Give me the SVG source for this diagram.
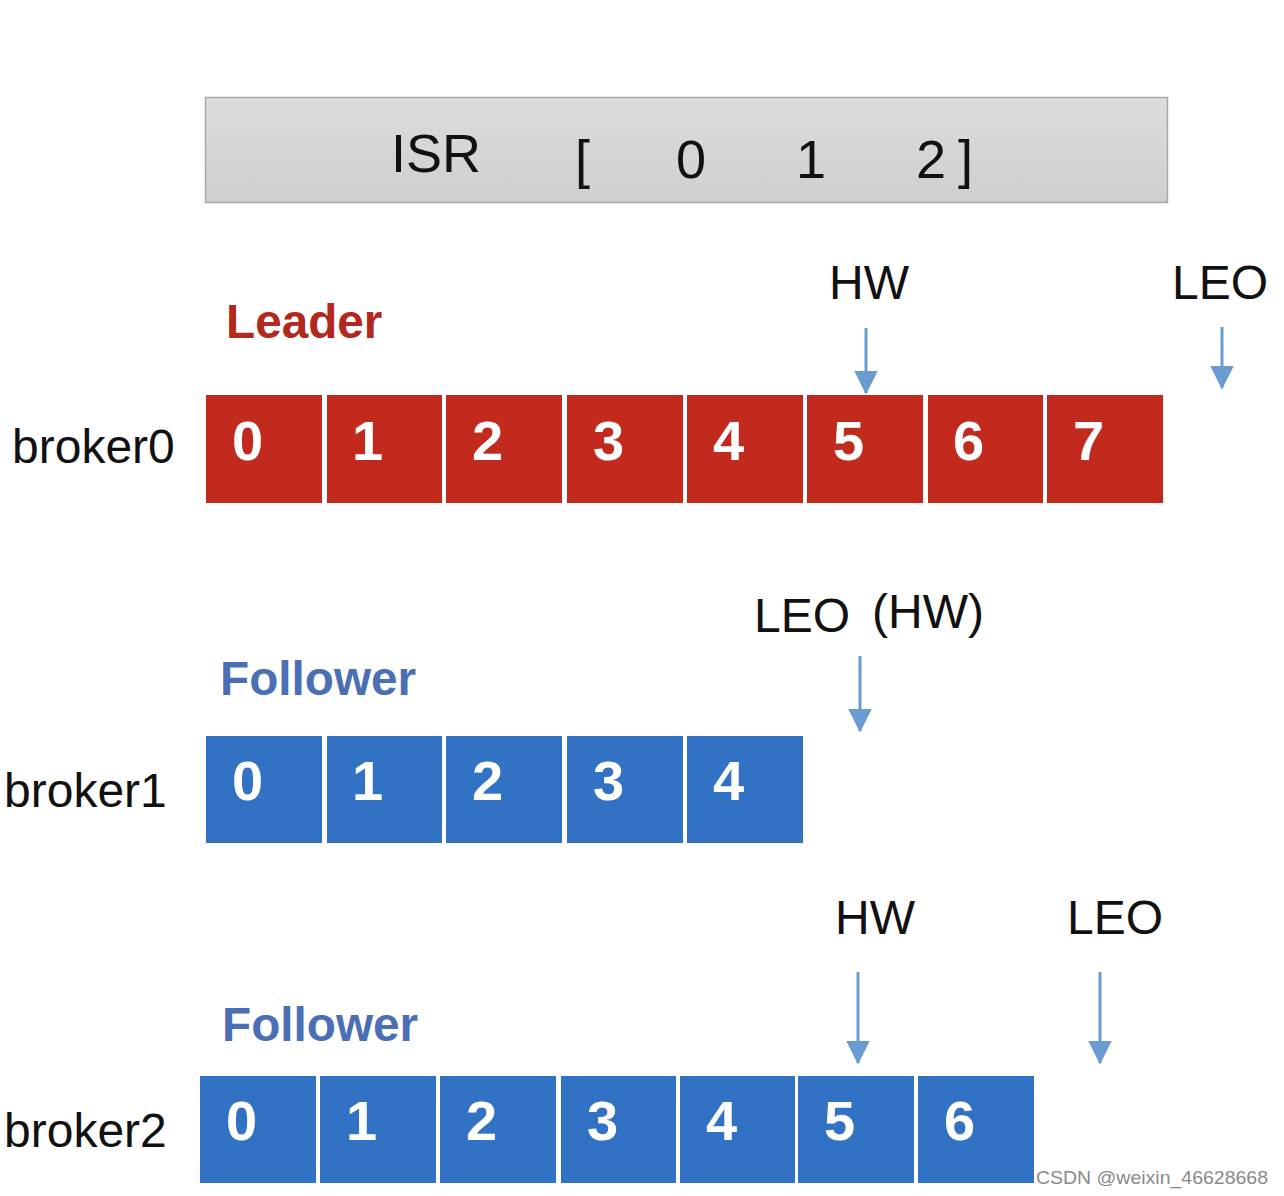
<svg xmlns="http://www.w3.org/2000/svg" width="1284" height="1196" viewBox="0 0 1284 1196">
<defs>
<linearGradient id="isrg" x1="0" y1="0" x2="0" y2="1">
<stop offset="0" stop-color="#dcdcdc"/>
<stop offset="1" stop-color="#cfcfcf"/>
</linearGradient>
<marker id="ah" markerWidth="8" markerHeight="9" refX="7.5" refY="4" orient="auto" markerUnits="strokeWidth">
<path d="M0,0 L8,4 L0,8 z" fill="#6a9bd1"/>
</marker>
<style>
.t{font-family:"Liberation Sans",Arial,sans-serif;fill:#111}
.lbl{font-size:48px}
.red{fill:#c22a1e}
.blue{fill:#3272c4}
.d{font-family:"Liberation Sans",Arial,sans-serif;font-weight:bold;font-size:56px;fill:#fff}
.role{font-family:"Liberation Sans",Arial,sans-serif;font-weight:bold;font-size:47.7px}
.arr{stroke:#6a9bd1;stroke-width:3;fill:none;marker-end:url(#ah)}
</style>
</defs>
<rect width="1284" height="1196" fill="#fff"/>

<g id="isr">
<rect x="205.5" y="97.5" width="962" height="105" fill="url(#isrg)" stroke="#a8a8a8" stroke-width="1.5"/>
<text class="t" x="391" y="172" font-size="54">ISR</text>
<text class="t" x="575" y="178" font-size="54">[</text>
<text class="t" x="676" y="178" font-size="54">0</text>
<text class="t" x="796" y="178" font-size="54">1</text>
<text class="t" x="916" y="178" font-size="54">2</text>
<text class="t" x="958" y="178" font-size="54">]</text>
</g>

<g id="broker0">
<text class="t lbl" x="12" y="463">broker0</text>
<text class="role" x="226" y="338" fill="#b2281c">Leader</text>
<rect class="red" x="206" y="395" width="116" height="108"/>
<rect class="red" x="327" y="395" width="115" height="108"/>
<rect class="red" x="446" y="395" width="116" height="108"/>
<rect class="red" x="567" y="395" width="116" height="108"/>
<rect class="red" x="687" y="395" width="116" height="108"/>
<rect class="red" x="807" y="395" width="116" height="108"/>
<rect class="red" x="928" y="395" width="115" height="108"/>
<rect class="red" x="1047" y="395" width="116" height="108"/>
<text class="d" x="232" y="460">0</text>
<text class="d" x="352" y="460">1</text>
<text class="d" x="472" y="460">2</text>
<text class="d" x="593" y="460">3</text>
<text class="d" x="713" y="460">4</text>
<text class="d" x="833" y="460">5</text>
<text class="d" x="953" y="460">6</text>
<text class="d" x="1073" y="460">7</text>
<text class="t lbl" x="829" y="299">HW</text>
<text class="t lbl" x="1172" y="299">LEO</text>
</g>

<g id="broker1">
<text class="t lbl" x="4" y="807">broker1</text>
<text class="role" x="220" y="695" fill="#4a6fb5">Follower</text>
<rect class="blue" x="206" y="736" width="116" height="107"/>
<rect class="blue" x="327" y="736" width="115" height="107"/>
<rect class="blue" x="446" y="736" width="116" height="107"/>
<rect class="blue" x="567" y="736" width="116" height="107"/>
<rect class="blue" x="687" y="736" width="116" height="107"/>
<text class="d" x="232" y="800">0</text>
<text class="d" x="352" y="800">1</text>
<text class="d" x="472" y="800">2</text>
<text class="d" x="593" y="800">3</text>
<text class="d" x="713" y="800">4</text>
<text class="t lbl" x="754" y="632">LEO</text>
<text class="t lbl" x="872" y="628">(HW)</text>
</g>

<g id="broker2">
<text class="t lbl" x="4" y="1147">broker2</text>
<text class="role" x="222" y="1041" fill="#4a6fb5">Follower</text>
<rect class="blue" x="200" y="1076" width="116" height="107"/>
<rect class="blue" x="320" y="1076" width="116" height="107"/>
<rect class="blue" x="440" y="1076" width="116" height="107"/>
<rect class="blue" x="561" y="1076" width="115" height="107"/>
<rect class="blue" x="680" y="1076" width="115" height="107"/>
<rect class="blue" x="798" y="1076" width="116" height="107"/>
<rect class="blue" x="918" y="1076" width="116" height="107"/>
<text class="d" x="226" y="1140">0</text>
<text class="d" x="346" y="1140">1</text>
<text class="d" x="466" y="1140">2</text>
<text class="d" x="587" y="1140">3</text>
<text class="d" x="706" y="1140">4</text>
<text class="d" x="824" y="1140">5</text>
<text class="d" x="944" y="1140">6</text>
<text class="t lbl" x="835" y="934">HW</text>
<text class="t lbl" x="1067" y="934">LEO</text>
</g>

<g id="connectors">
<line class="arr" x1="866" y1="328" x2="866" y2="393"/>
<line class="arr" x1="1222" y1="327" x2="1222" y2="388"/>
<line class="arr" x1="860" y1="656" x2="860" y2="731"/>
<line class="arr" x1="858" y1="972" x2="858" y2="1063"/>
<line class="arr" x1="1100" y1="972" x2="1100" y2="1063"/>
</g>

<text x="1036" y="1184" font-family="Liberation Sans,Arial,sans-serif" font-size="19" textLength="232" lengthAdjust="spacingAndGlyphs" fill="#8a8a8a">CSDN @weixin_46628668</text>
</svg>
